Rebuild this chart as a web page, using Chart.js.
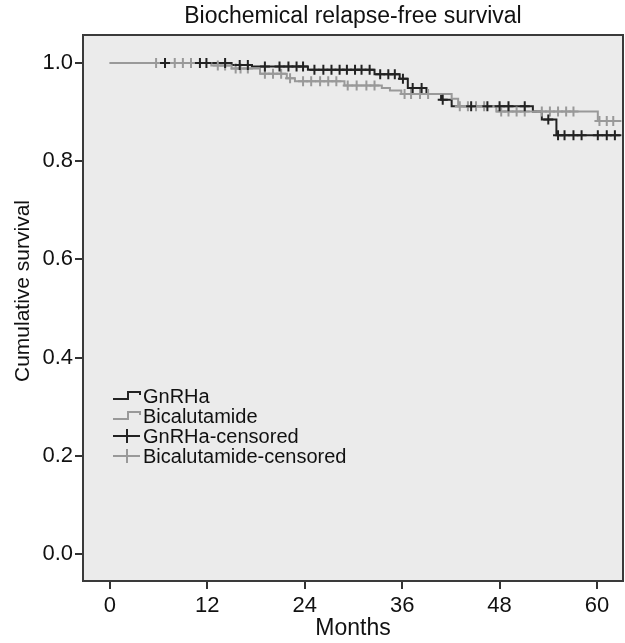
<!DOCTYPE html>
<html>
<head>
<meta charset="utf-8">
<script src="https://cdn.jsdelivr.net/npm/chart.js@4/dist/chart.umd.min.js"></script>
<style>
  html, body { margin: 0; padding: 0; background: #fff; }
</style>
</head>
<body>
<canvas id="km" width="625" height="643"></canvas>
<script>
// tick labels
const monthTicks = [0, 12, 24, 36, 48, 60];
const survTicks = [0, 0.2, 0.4, 0.6, 0.8, 1.0];

// GnRHa: step times (months) and survival from that time on
const gnrhaTimes = [0, 15, 17.5, 24.4, 32.6, 35.7, 36.7, 39, 40.8, 42.1, 52.1, 53.2, 55];
const gnrhaSurv = [1, 0.996, 0.993, 0.986, 0.977, 0.968, 0.949, 0.937, 0.925, 0.912, 0.901, 0.885, 0.853];
const gnrhaEnd = 63;
const gnrhaCensored = [6.8, 11.1, 11.9, 14.2, 16, 17, 19.1, 20.9, 22, 23, 23.8, 25.2, 26.3, 27.3, 28.3, 29.2,
  30.2, 31, 32, 33.3, 34.3, 35.1, 36.1, 37.3, 38.4, 41, 44.5, 46.5, 48, 49.1, 51.1, 54, 55.2, 56, 57.1,
  58.1, 60.1, 61.2, 62.2];

// Bicalutamide
const bicaTimes = [0, 12.5, 15, 18.5, 21.8, 22.8, 28.9, 33.5, 34.5, 35.9, 42.1, 42.9, 47.6, 60.1];
const bicaSurv = [1, 0.995, 0.989, 0.978, 0.969, 0.963, 0.954, 0.949, 0.944, 0.937, 0.927, 0.912, 0.901, 0.882];
const bicaEnd = 63;
const bicaCensored = [5.7, 8, 9, 10, 13.3, 14.2, 15.5, 16.1, 17, 19.1, 20.1, 21.1, 22.2, 23.8, 24.8, 25.9,
  26.9, 27.9, 29.3, 30.4, 31.6, 32.6, 36.3, 37.1, 38.2, 39.2, 43.1, 44.1, 45.1, 46.1, 48.2, 49.1, 50.1,
  51.1, 53.2, 54.2, 55.2, 56.2, 57.1, 60.3, 61.2, 62];

const FONT = "'Liberation Sans', Arial, sans-serif";
const BLACK = '#222';
const GRAY = '#999';

function stepPoints(times, surv, end) {
  const pts = times.map((t, i) => ({ x: t, y: surv[i] }));
  pts.push({ x: end, y: surv[surv.length - 1] });
  return pts;
}

// survival value in force at time t
function survAt(times, surv, t) {
  let v = surv[0];
  for (let i = 0; i < times.length; i++) {
    if (times[i] <= t) v = surv[i];
  }
  return v;
}

function censorPoints(list, times, surv) {
  return list.map(t => ({ x: t, y: survAt(times, surv, t) }));
}

// legend icon drawers
function drawStep(ctx, x, y, color) {
  ctx.strokeStyle = color;
  ctx.lineWidth = 2;
  ctx.beginPath();
  ctx.moveTo(x, y + 3);
  ctx.lineTo(x + 15, y + 3);
  ctx.lineTo(x + 15, y - 4);
  ctx.lineTo(x + 27, y - 4);
  ctx.lineTo(x + 27, y - 1);
  ctx.stroke();
}
function drawCross(ctx, x, y, color) {
  ctx.strokeStyle = color;
  ctx.lineWidth = 2;
  ctx.beginPath();
  ctx.moveTo(x, y);
  ctx.lineTo(x + 27, y);
  ctx.moveTo(x + 14, y - 7);
  ctx.lineTo(x + 14, y + 7);
  ctx.stroke();
}

const legendItems = [
  { text: 'GnRHa', color: BLACK, icon: drawStep },
  { text: 'Bicalutamide', color: GRAY, icon: drawStep },
  { text: 'GnRHa-censored', color: BLACK, icon: drawCross },
  { text: 'Bicalutamide-censored', color: GRAY, icon: drawCross }
];

const framePlugin = {
  id: 'frame',
  beforeDraw(chart) {
    const { ctx, chartArea: a } = chart;
    ctx.save();
    ctx.fillStyle = '#fff';
    ctx.fillRect(0, 0, chart.width, chart.height);
    ctx.fillStyle = '#ebebeb';
    ctx.fillRect(a.left, a.top, a.right - a.left, a.bottom - a.top);
    ctx.restore();
  },
  afterDraw(chart) {
    const { ctx, chartArea: a } = chart;
    ctx.save();
    ctx.strokeStyle = '#3a3a3a';
    ctx.lineWidth = 2;
    ctx.strokeRect(a.left, a.top, a.right - a.left, a.bottom - a.top);

    ctx.fillStyle = '#111';
    ctx.textAlign = 'center';
    ctx.textBaseline = 'middle';
    ctx.font = '23px ' + FONT;
    ctx.fillText('Biochemical relapse-free survival', (a.left + a.right) / 2, 17);
    ctx.font = '23px ' + FONT;
    ctx.fillText('Months', (a.left + a.right) / 2, 629);
    ctx.font = '21px ' + FONT;
    ctx.save();
    ctx.translate(23, 291);
    ctx.rotate(-Math.PI / 2);
    ctx.fillText('Cumulative survival', 0, 0);
    ctx.restore();

    // legend
    ctx.textAlign = 'left';
    ctx.font = '20px ' + FONT;
    legendItems.forEach((it, i) => {
      const y = 396 + i * 20;
      it.icon(ctx, 113, y, it.color);
      ctx.fillStyle = '#111';
      ctx.fillText(it.text, 143, y + 1);
    });
    ctx.restore();
  }
};

new Chart(document.getElementById('km'), {
  type: 'line',
  data: {
    datasets: [
      {
        label: 'GnRHa-censored',
        data: censorPoints(gnrhaCensored, gnrhaTimes, gnrhaSurv),
        showLine: false,
        pointStyle: 'cross',
        pointRadius: 5,
        borderColor: BLACK,
        borderWidth: 2,
        order: 0
      },
      {
        label: 'Bicalutamide-censored',
        data: censorPoints(bicaCensored, bicaTimes, bicaSurv),
        showLine: false,
        pointStyle: 'cross',
        pointRadius: 5,
        borderColor: GRAY,
        borderWidth: 2,
        order: 1
      },
      {
        label: 'Bicalutamide',
        data: stepPoints(bicaTimes, bicaSurv, bicaEnd),
        stepped: 'before',
        borderColor: GRAY,
        borderWidth: 2,
        pointRadius: 0,
        fill: false,
        order: 2
      },
      {
        label: 'GnRHa',
        data: stepPoints(gnrhaTimes, gnrhaSurv, gnrhaEnd),
        stepped: 'before',
        borderColor: BLACK,
        borderWidth: 2,
        pointRadius: 0,
        fill: false,
        order: 3
      }
    ]
  },
  options: {
    responsive: false,
    animation: false,
    layout: { autoPadding: false, padding: { top: 35, right: 2, left: 0, bottom: 0 } },
    plugins: {
      legend: { display: false },
      tooltip: { enabled: false }
    },
    scales: {
      x: {
        type: 'linear',
        min: -3.3,
        max: 63.2,
        afterBuildTicks: s => { s.ticks = monthTicks.map(v => ({ value: v })); },
        afterFit: s => { s.height = 62; s.paddingLeft = 0; s.paddingRight = 0; },
        grid: { drawOnChartArea: false, tickLength: 8, color: '#333', lineWidth: 2 },
        border: { display: false },
        ticks: { color: '#111', padding: 4, font: { family: FONT, size: 22 }, maxRotation: 0 }
      },
      y: {
        type: 'linear',
        min: -0.055,
        max: 1.057,
        afterBuildTicks: s => { s.ticks = survTicks.map(v => ({ value: v })); },
        afterFit: s => { s.width = 83; s.paddingTop = 0; s.paddingBottom = 0; },
        grid: { drawOnChartArea: false, tickLength: 8, color: '#333', lineWidth: 2 },
        border: { display: false },
        ticks: {
          color: '#111',
          padding: 2,
          font: { family: FONT, size: 22 },
          callback: v => Number(v).toFixed(1)
        }
      }
    }
  },
  plugins: [framePlugin]
});
</script>
</body>
</html>
